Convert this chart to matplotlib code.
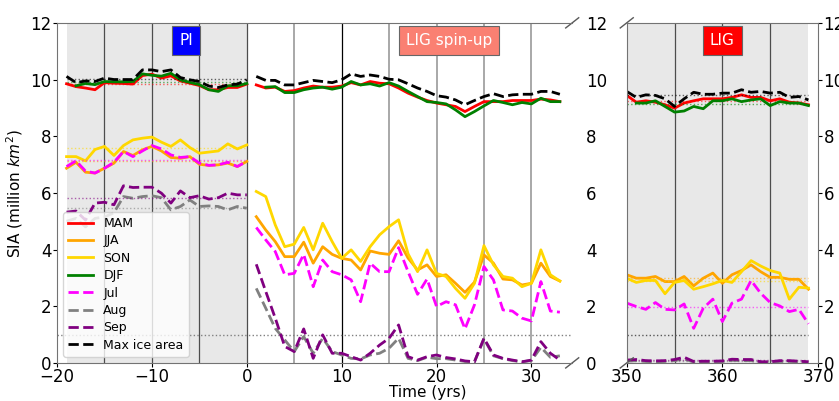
"""
Sea-ice area (SIA) time series: PI control, LIG spin-up and LIG equilibrium.
Broken x-axis: left panel covers PI + spin-up, right panel the LIG years.
"""

import numpy as np
import matplotlib
matplotlib.use("Agg")
import matplotlib.pyplot as plt
from matplotlib.transforms import ScaledTranslation

# ─── Years ────────────────────────────────────────────────────────────────────
yrs_pi = list(range(-19, 1))
yrs_spin = list(range(1, 34))
yrs_lig = list(range(350, 370))

# ─── PI control (million km²) ─────────────────────────────────────────────────
pi_mam = [9.85, 9.75, 9.70, 9.64, 9.89, 9.87, 9.86, 9.84, 10.14, 10.19,
          10.05, 10.13, 9.95, 9.87, 9.79, 9.64, 9.64, 9.72, 9.72, 9.84]
pi_jja = [6.87, 7.08, 6.73, 6.70, 6.87, 7.05, 7.46, 7.32, 7.52, 7.64,
          7.48, 7.25, 7.22, 7.28, 7.01, 6.97, 6.99, 7.05, 6.93, 7.11]
pi_son = [7.28, 7.28, 7.13, 7.53, 7.64, 7.32, 7.67, 7.87, 7.93, 7.97,
          7.79, 7.64, 7.87, 7.60, 7.40, 7.44, 7.48, 7.73, 7.55, 7.69]
pi_djf = [9.78, 9.86, 9.82, 9.93, 9.92, 9.92, 9.93, 10.20, 10.15,
          10.12, 10.22, 9.99, 9.90, 9.82, 9.64, 9.58, 9.78, 9.78, 9.86]   # from -18
pi_jul = [6.93, 7.13, 6.77, 6.70, 6.87, 7.08, 7.46, 7.28, 7.48, 7.67,
          7.55, 7.34, 7.25, 7.28, 7.05, 6.97, 6.99, 7.08, 6.93, 7.11]
pi_aug = [5.00, 5.10, 4.80, 5.10, 5.15, 5.30, 5.87, 5.81, 5.87, 5.90,
          5.83, 5.40, 5.52, 5.75, 5.52, 5.54, 5.52, 5.40, 5.52, 5.46]
pi_sep = [5.32, 5.36, 5.04, 5.64, 5.67, 5.58, 6.25, 6.19, 6.20, 6.20,
          5.99, 5.64, 6.07, 5.83, 5.90, 5.78, 5.83, 5.99, 5.93, 5.93]
pi_max = [10.11, 9.89, 9.95, 9.93, 10.05, 10.00, 10.00, 10.00, 10.34, 10.34,
          10.28, 10.34, 10.07, 9.99, 9.93, 9.77, 9.72, 9.81, 9.84, 9.99]

# ─── LIG spin-up ──────────────────────────────────────────────────────────────
sp_mam = [9.81, 9.70, 9.73, 9.58, 9.61, 9.70, 9.77, 9.73, 9.73, 9.77, 9.89,
          9.81, 9.93, 9.87, 9.85, 9.70, 9.52, 9.38, 9.26, 9.17, 9.11, 9.05,
          8.87, 9.05, 9.22, 9.22, 9.22, 9.26, 9.26, 9.26, 9.31, 9.28, 9.22]
sp_jja = [5.16, 4.69, 4.28, 3.75, 3.75, 4.26, 3.52, 4.10, 3.83, 3.69, 3.63,
          3.28, 3.95, 3.87, 3.83, 4.31, 3.70, 3.28, 3.46, 3.05, 3.11, 2.81,
          2.49, 2.85, 3.81, 3.52, 2.96, 2.93, 2.75, 2.81, 3.52, 3.05, 2.89]
sp_son = [6.05, 5.87, 4.87, 4.10, 4.19, 4.78, 3.99, 4.93, 4.28, 3.69, 3.99,
          3.58, 4.10, 4.52, 4.81, 5.05, 3.85, 3.22, 3.99, 3.16, 3.05, 2.63,
          2.28, 2.81, 4.14, 3.46, 3.05, 2.99, 2.69, 2.81, 3.99, 3.11, 2.89]
sp_djf = [9.73, 9.75, 9.54, 9.54, 9.64, 9.70, 9.73, 9.66, 9.73, 9.93, 9.81,
          9.85, 9.77, 9.89, 9.77, 9.58, 9.40, 9.22, 9.19, 9.14, 8.93, 8.69,
          8.87, 9.07, 9.26, 9.19, 9.11, 9.19, 9.14, 9.34, 9.22, 9.22]   # from 2
sp_jul = [4.78, 4.34, 3.93, 3.11, 3.16, 3.83, 2.69, 3.63, 3.22, 3.11, 2.93,
          2.16, 3.52, 3.22, 3.22, 4.07, 3.22, 2.42, 2.96, 1.99, 2.16, 2.05,
          1.20, 2.05, 3.40, 2.93, 1.87, 1.83, 1.58, 1.48, 2.87, 1.83, 1.79]
sp_aug = [2.63, 1.93, 1.22, 0.81, 0.40, 0.93, 0.34, 0.87, 0.40, 0.28, 0.16,
          0.14, 0.28, 0.34, 0.52, 0.87, 0.16, 0.08, 0.20, 0.15, 0.15, 0.10,
          0.05, 0.04, 0.85, 0.25, 0.15, 0.08, 0.04, 0.08, 0.55, 0.20, 0.25]
sp_sep = [3.48, 2.52, 1.58, 0.58, 0.40, 1.20, 0.16, 0.99, 0.34, 0.34, 0.22,
          0.10, 0.34, 0.63, 0.87, 1.34, 0.22, 0.10, 0.22, 0.28, 0.19, 0.14,
          0.07, 0.04, 0.87, 0.28, 0.16, 0.10, 0.04, 0.10, 0.75, 0.34, 0.10]
sp_max = [10.11, 9.97, 9.97, 9.81, 9.81, 9.89, 9.97, 9.93, 9.89, 9.99, 10.20,
          10.11, 10.16, 10.11, 10.01, 9.99, 9.85, 9.70, 9.58, 9.43, 9.38, 9.28,
          9.11, 9.26, 9.40, 9.50, 9.40, 9.46, 9.48, 9.48, 9.58, 9.58, 9.48]

# ─── LIG equilibrium ──────────────────────────────────────────────────────────
lig_mam = [9.44, 9.20, 9.25, 9.20, 9.11, 8.99, 9.17, 9.25, 9.32, 9.32,
           9.32, 9.37, 9.46, 9.37, 9.37, 9.25, 9.32, 9.20, 9.17, 9.11]
lig_jja = [3.11, 2.99, 2.99, 3.05, 2.87, 2.87, 3.05, 2.72, 2.99, 3.17,
           2.81, 3.11, 3.26, 3.46, 3.22, 3.02, 3.02, 2.95, 2.95, 2.60]
lig_son = [2.99, 2.84, 2.91, 2.91, 2.44, 2.84, 2.91, 2.60, 2.69, 2.79,
           2.91, 2.84, 3.22, 3.61, 3.42, 3.26, 3.17, 2.25, 2.67, 2.64]
lig_djf = [9.17, 9.17, 9.25, 9.05, 8.85, 8.89, 9.05, 8.97, 9.25,
           9.25, 9.32, 9.22, 9.28, 9.32, 9.08, 9.22, 9.17, 9.17, 9.08]   # from 351
lig_jul = [2.11, 1.99, 1.89, 2.13, 1.89, 1.87, 2.08, 1.22, 1.93, 2.25,
           1.46, 2.11, 2.25, 2.91, 2.46, 2.13, 2.01, 1.81, 1.89, 1.38]
lig_aug = [0.06, 0.08, 0.05, 0.04, 0.05, 0.08, 0.14, 0.03, 0.04, 0.04,
           0.05, 0.09, 0.08, 0.08, 0.02, 0.02, 0.05, 0.05, 0.04, 0.02]
lig_sep = [0.10, 0.12, 0.08, 0.07, 0.08, 0.12, 0.20, 0.05, 0.06, 0.06,
           0.07, 0.13, 0.12, 0.12, 0.04, 0.04, 0.08, 0.08, 0.06, 0.04]
lig_max = [9.58, 9.37, 9.46, 9.44, 9.32, 9.05, 9.32, 9.55, 9.48, 9.48,
           9.52, 9.52, 9.64, 9.55, 9.58, 9.52, 9.55, 9.37, 9.40, 9.28]

# (label, colour, linestyle) for each series, in plotting order
STYLES = [("MAM", "red", "-"), ("JJA", "orange", "-"), ("SON", "gold", "-"),
          ("DJF", "green", "-"), ("Jul", "magenta", "--"), ("Aug", "gray", "--"),
          ("Sep", "purple", "--"), ("Max ice area", "black", "--")]

PI = [pi_mam, pi_jja, pi_son, pi_djf, pi_jul, pi_aug, pi_sep, pi_max]
SPIN = [sp_mam, sp_jja, sp_son, sp_djf, sp_jul, sp_aug, sp_sep, sp_max]
LIG = [lig_mam, lig_jja, lig_son, lig_djf, lig_jul, lig_aug, lig_sep, lig_max]


def _years(series, yrs):
    # DJF starts one year later (needs previous December)
    return yrs[len(yrs) - len(series):]


def plot_block(ax, yrs, block, with_mean=False, label=False):
    for (name, col, ls), s in zip(STYLES, block):
        ax.plot(_years(s, yrs), s, color=col, ls=ls, lw=2,
                label=name if label else None)
        if with_mean:
            ax.hlines(np.mean(s), yrs[0], yrs[-1], color=col, ls=":", lw=1, alpha=0.6)


fig = plt.figure(figsize=(8.39, 4.01), dpi=100)
ax1 = fig.add_axes([0.068, 0.095, 0.614, 0.848])
ax2 = fig.add_axes([0.747, 0.095, 0.228, 0.848])

# ─── Left: PI + spin-up ───────────────────────────────────────────────────────
ax1.axvspan(-19, 0, color="lightgray", alpha=0.5, lw=0)
for xv in [-15, -10, -5, 0]:
    ax1.axvline(xv, color="0.3", lw=0.9)
for xv in [5, 15, 20, 25, 30]:
    ax1.axvline(xv, color="0.6", lw=1.2)
ax1.axvline(10, color="k", lw=0.9)
ax1.hlines(1, -20, 34.3, color="0.5", ls=":", lw=1)

plot_block(ax1, yrs_pi, PI, with_mean=True, label=True)
plot_block(ax1, yrs_spin, SPIN)

ax1.set_xlim(-20, 34.3)
ax1.set_ylim(0, 12)
ax1.set_xticks([-20, -10, 0, 10, 20, 30])
ax1.set_yticks(range(0, 13, 2))
ax1.spines["right"].set_visible(False)
ax1.tick_params(labelsize=12, length=3, pad=1)
ax1.tick_params(axis="y", right=True, labelright=True)
for t in ax1.yaxis.get_major_ticks():
    t.tick2line.set_visible(False)      # labels only in the gap between panels
ax1.set_ylabel("SIA (million $km^2$)", fontsize=11)

box = dict(boxstyle="square,pad=0.45", edgecolor="0.4", lw=0.8)
ax1.text(-6.4, 11.37, "PI", color="white", fontsize=11, ha="center", va="center",
         bbox=dict(box, facecolor="blue"))
ax1.text(21.3, 11.37, "LIG spin-up", color="white", fontsize=11, ha="center",
         va="center", bbox=dict(box, facecolor="salmon"))

ax1.legend(loc="lower left", fontsize=9, labelspacing=0.35, borderpad=0.4)

# ─── Right: LIG ───────────────────────────────────────────────────────────────
ax2.axvspan(350, 369, color="lightgray", alpha=0.5, lw=0)
for xv in [355, 360, 365]:
    ax2.axvline(xv, color="0.3", lw=0.9)
ax2.hlines(1, 350, 369, color="0.35", ls=":", lw=1)

plot_block(ax2, yrs_lig, LIG, with_mean=True)

ax2.set_xlim(350, 370)
ax2.set_ylim(0, 12)
ax2.set_xticks([350, 360, 370])
ax2.set_yticks(range(0, 13, 2))
ax2.yaxis.tick_right()
ax2.tick_params(labelsize=12, length=3, pad=1)
ax2.text(360, 11.37, "LIG", color="white", fontsize=11, ha="center", va="center",
         bbox=dict(box, facecolor="red"))

for ax in (ax1, ax2):
    for sp in ax.spines.values():
        sp.set_color("0.45")

# ─── Break marks ──────────────────────────────────────────────────────────────
dy = 0.015
kw = dict(color="0.35", lw=1, clip_on=False)
dx1 = 0.0126
ax1.plot((1 - dx1, 1 + dx1), (-dy, dy), transform=ax1.transAxes, **kw)
ax1.plot((1 - dx1, 1 + dx1), (1 - dy, 1 + dy), transform=ax1.transAxes, **kw)
dx2 = 0.034
ax2.plot((-dx2, dx2), (-dy, dy), transform=ax2.transAxes, **kw)
ax2.plot((-dx2, dx2), (1 - dy, 1 + dy), transform=ax2.transAxes, **kw)

fig.text(428 / 839, 0.022, "Time (yrs)", ha="center", va="center", fontsize=11)

# push the middle labels (right side of ax1) a bit further into the gap
fig.canvas.draw()
shift = ScaledTranslation(8 / 100, 0, fig.dpi_scale_trans)
for t in ax1.yaxis.get_major_ticks():
    t.label2.set_transform(t.label2.get_transform() + shift)

fig.savefig("out.png", dpi=100)
